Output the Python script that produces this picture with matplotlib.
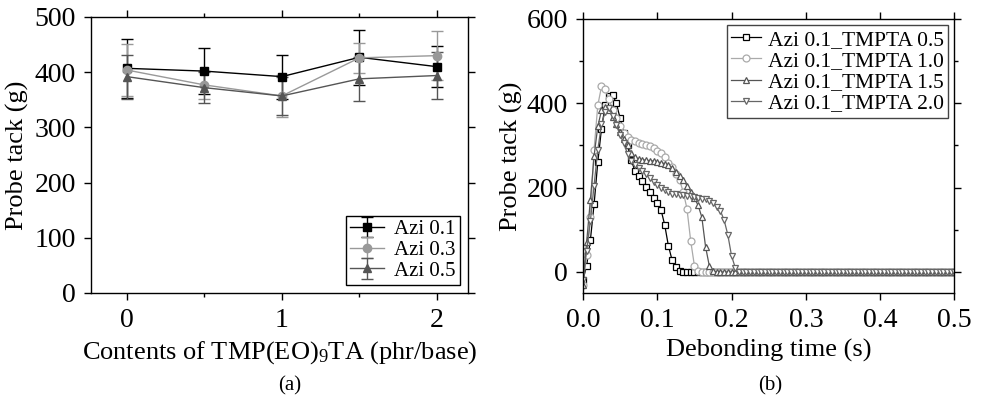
import numpy as np
import matplotlib
matplotlib.use("Agg")
import matplotlib.pyplot as plt

plt.rcParams['font.family'] = ['Liberation Serif', 'DejaVu Serif']
plt.rcParams['mathtext.fontset'] = 'custom'
plt.rcParams['mathtext.rm'] = 'Liberation Serif'
plt.rcParams['mathtext.it'] = 'Liberation Serif:italic'

# (a) probe tack vs TMP(EO)9TA content
content = [0, 0.5, 1, 1.5, 2]
azi01 = [407, 402, 392, 427, 410]
azi01_err = [53, 42, 40, 50, 37]
azi03 = [404, 377, 357, 426, 430]
azi03_err = [47, 25, 38, 27, 45]
azi05 = [392, 372, 357, 388, 394]
azi05_err = [40, 28, 35, 40, 43]

# (b) probe tack curves, sampled every 0.005 s
time = np.round(np.arange(0, 0.5001, 0.005), 3)
tmpta05 = [-20, 15, 75, 160, 260, 340, 395, 418, 420, 400, 365, 330, 300, 265, 240,
           228, 215, 202, 189, 176, 164, 148, 112, 62, 28, 11, 3, 0]
tmpta10 = [-30, 40, 130, 290, 395, 440, 435, 410, 385, 365, 345, 330, 320, 314, 310,
           307, 304, 301, 298, 293, 288, 283, 272, 258, 248, 232, 218, 190, 150, 74,
           15, 2, 0]
tmpta15 = [-30, 70, 170, 275, 345, 383, 392, 385, 368, 350, 332, 315, 300, 282, 272,
           268, 266, 265, 264, 263, 261, 259, 257, 253, 247, 238, 228, 218, 205, 190,
           175, 158, 130, 60, 15, 2, 0]
tmpta20 = [-20, 50, 120, 205, 290, 350, 380, 388, 370, 348, 325, 305, 280, 262, 253,
           246, 240, 232, 222, 214, 206, 200, 194, 189, 186, 184, 183, 182, 181, 180,
           178, 176, 174, 172, 168, 163, 155, 145, 123, 88, 38, 10, 1, 0]


def pad(vals):
    # flat zero tail up to 0.5 s
    return vals + [0] * (len(time) - len(vals))


fig = plt.figure(figsize=(9.83, 4.0), dpi=100)
ax1 = fig.add_axes([0.0926, 0.2675, 0.3835, 0.69])
ax2 = fig.add_axes([0.593, 0.2675, 0.378, 0.685])

series_a = [
    (azi01, azi01_err, 's', '#000000', 'Azi 0.1'),
    (azi03, azi03_err, 'o', '#999999', 'Azi 0.3'),
    (azi05, azi05_err, '^', '#555555', 'Azi 0.5'),
]
for vals, err, mk, col, lab in series_a:
    ax1.errorbar(content, vals, yerr=err, marker=mk, color=col, ms=6, lw=1.0,
                 elinewidth=1.0, capsize=4, capthick=1.0, label=lab)

ax1.set_xlim(-0.23, 2.2)
ax1.set_ylim(0, 500)
ax1.set_xticks([0, 1, 2])
ax1.set_xticks([0.5, 1.5], minor=True)
ax1.set_yticks([0, 100, 200, 300, 400, 500])
ax1.set_xlabel(r'Contents of TMP(EO)$_9$TA (phr/base)', fontsize=19, labelpad=4)
ax1.set_ylabel('Probe tack (g)', fontsize=19, labelpad=4)
leg1 = ax1.legend(loc='lower right', fontsize=15, fancybox=False, edgecolor='black',
                  framealpha=1, handlelength=1.6, borderpad=0.2, labelspacing=0.05,
                  handletextpad=0.5, borderaxespad=0.4)
leg1.get_frame().set_linewidth(1.0)

series_b = [
    (tmpta05, 's', '#000000', 'Azi 0.1_TMPTA 0.5'),
    (tmpta10, 'o', '#aaaaaa', 'Azi 0.1_TMPTA 1.0'),
    (tmpta15, '^', '#555555', 'Azi 0.1_TMPTA 1.5'),
    (tmpta20, 'v', '#666666', 'Azi 0.1_TMPTA 2.0'),
]
for vals, mk, col, lab in series_b:
    ax2.plot(time, pad(vals), marker=mk, color=col, mfc='white', mec=col, ms=5,
             mew=0.9, lw=0.9, label=lab)

ax2.set_xlim(0, 0.5)
ax2.set_ylim(-50, 600)
ax2.set_xticks([0.0, 0.1, 0.2, 0.3, 0.4, 0.5])
ax2.set_xticklabels(['0.0', '0.1', '0.2', '0.3', '0.4', '0.5'])
ax2.set_yticks([0, 200, 400, 600])
ax2.set_yticks([100, 300, 500], minor=True)
ax2.set_xlabel('Debonding time (s)', fontsize=19, labelpad=4)
ax2.set_ylabel('Probe tack (g)', fontsize=19, labelpad=2)
leg2 = ax2.legend(loc='upper right', fontsize=15.5, fancybox=False, edgecolor='#444444',
                  framealpha=1, handlelength=1.4, borderpad=0.2, labelspacing=0.05,
                  handletextpad=0.3, borderaxespad=0.3)
leg2.get_frame().set_linewidth(1.0)

for ax in (ax1, ax2):
    ax.tick_params(which='both', direction='out', top=True, right=True, labelsize=20)
    ax.tick_params(which='major', length=5, width=1, pad=6)
    ax.tick_params(which='minor', length=3, width=1)
    for s in ax.spines.values():
        s.set_linewidth(1.0)

fig.text(0.295, 0.025, '(a)', fontsize=15, ha='center')
fig.text(0.783, 0.025, '(b)', fontsize=15, ha='center')

fig.savefig('out.png', dpi=100)
